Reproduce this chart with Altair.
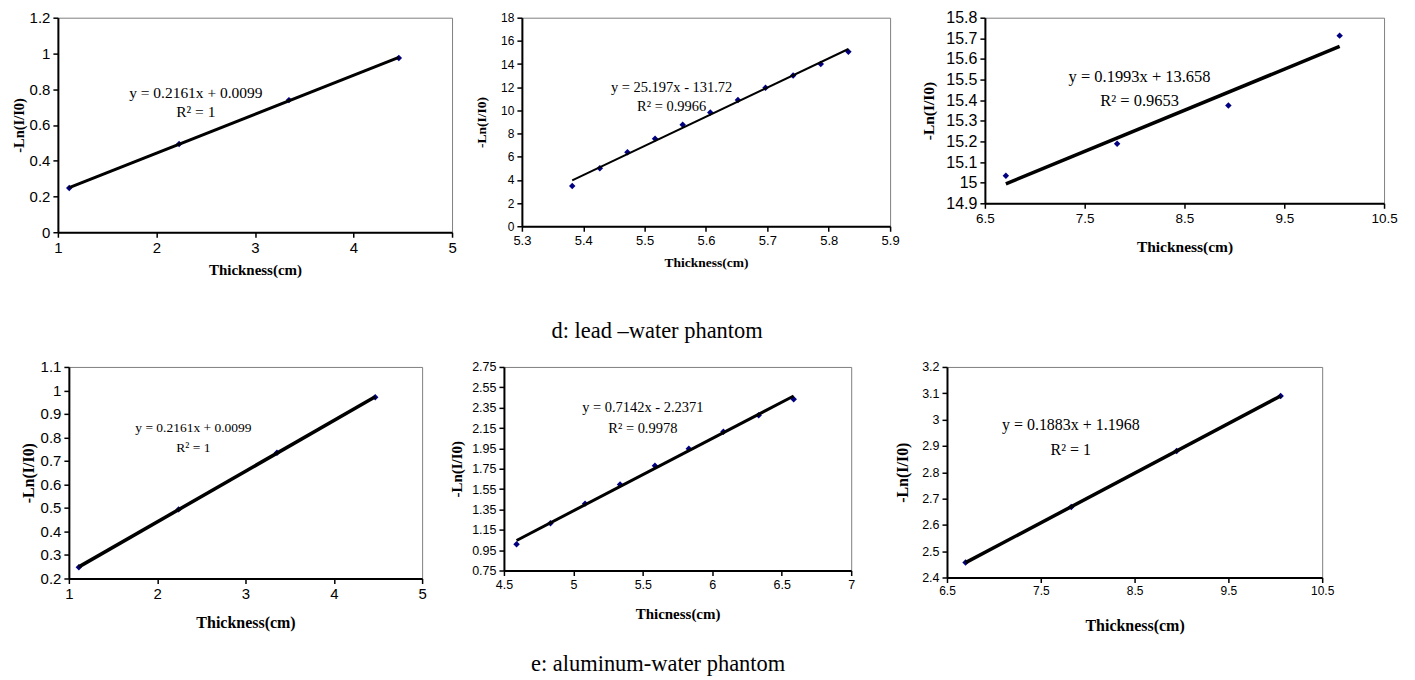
import altair as alt
import pandas as pd

# ---------------- data ----------------
p1_x = [1.115, 2.23, 3.345, 4.46]
p1_y = [0.247, 0.494, 0.739, 0.975]
p2_x = [5.382, 5.427, 5.472, 5.517, 5.562, 5.607, 5.652, 5.697, 5.742, 5.787, 5.832]
p2_y = [3.48, 5.01, 6.39, 7.55, 8.76, 9.82, 10.89, 11.95, 13.02, 14.0, 15.06]
p3_x = [6.71, 7.825, 8.94, 10.055]
p3_y = [15.034, 15.189, 15.374, 15.713]
p4_x = [1.113, 2.242, 3.356, 4.469]
p4_y = [0.248, 0.494, 0.735, 0.971]
p5_x = [4.591, 4.835, 5.084, 5.336, 5.587, 5.831, 6.080, 6.334, 6.586]
p5_y = [1.008, 1.214, 1.407, 1.596, 1.779, 1.946, 2.113, 2.276, 2.433]
p6_x = [6.698, 7.825, 8.948, 10.057]
p6_y = [2.457, 2.668, 2.881, 3.090]

xticks_1 = [1, 2, 3, 4, 5]
yticks_1 = [0, 0.2, 0.4, 0.6, 0.8, 1.0, 1.2]
xticks_2 = [5.3, 5.4, 5.5, 5.6, 5.7, 5.8, 5.9]
yticks_2 = [0, 2, 4, 6, 8, 10, 12, 14, 16, 18]
xticks_3 = [6.5, 7.5, 8.5, 9.5, 10.5]
yticks_3 = [14.9, 15.0, 15.1, 15.2, 15.3, 15.4, 15.5, 15.6, 15.7, 15.8]
xticks_4 = [1, 2, 3, 4, 5]
yticks_4 = [0.2, 0.3, 0.4, 0.5, 0.6, 0.7, 0.8, 0.9, 1.0, 1.1]
xticks_5 = [4.5, 5, 5.5, 6, 6.5, 7]
yticks_5 = [0.75, 0.95, 1.15, 1.35, 1.55, 1.75, 1.95, 2.15, 2.35, 2.55, 2.75]
xticks_6 = [6.5, 7.5, 8.5, 9.5, 10.5]
yticks_6 = [2.4, 2.5, 2.6, 2.7, 2.8, 2.9, 3.0, 3.1, 3.2]

eq_1 = ["y = 0.2161x + 0.0099", "R² = 1"]
eq_2 = ["y = 25.197x - 131.72", "R² = 0.9966"]
eq_3 = ["y = 0.1993x + 13.658", "R² = 0.9653"]
eq_4 = ["y = 0.2161x + 0.0099", "R² = 1"]
eq_5 = ["y = 0.7142x - 2.2371", "R² = 0.9978"]
eq_6 = ["y = 0.1883x + 1.1968", "R² = 1"]

x_titles = ["Thickness(cm)", "Thickness(cm)", "Thickness(cm)",
            "Thickness(cm)", "Thicness(cm)", "Thickness(cm)"]
y_title = "-Ln(I/I0)"
captions = ["d: lead \u2013water phantom", "e: aluminum-water phantom"]


def panel(xs, ys, xt, yt, xtitle, eq, eqpos, w, h, box, lfx, lfy, tfs, efs,
          xty, ytx, lw, ytfs=None):
    L, R, T, B = box
    data = pd.DataFrame({"x": xs, "y": ys})
    x_enc = alt.X(
        "x:Q",
        scale=alt.Scale(domain=[xt[0], xt[-1]], nice=False, zero=False),
        axis=alt.Axis(
            values=xt, format=".4~g", title=xtitle, grid=False,
            labelFont="Liberation Sans", labelFontSize=lfx, labelColor="black",
            labelPadding=3, labelFlush=False, labelOverlap=False,
            tickSize=5, tickColor="black", tickWidth=1.5,
            domainColor="black", domainWidth=2,
            titleFont="Liberation Serif", titleFontWeight="bold",
            titleFontSize=tfs, titleColor="black",
            titleY=xty, titleBaseline="middle",
        ),
    )
    y_enc = alt.Y(
        "y:Q",
        scale=alt.Scale(domain=[yt[0], yt[-1]], nice=False, zero=False),
        axis=alt.Axis(
            values=yt, format=".4~g", title=y_title, grid=False,
            labelFont="Liberation Sans", labelFontSize=lfy, labelColor="black",
            labelPadding=3, labelFlush=False, labelOverlap=False,
            tickSize=5, tickColor="black", tickWidth=1.5,
            domainColor="black", domainWidth=2,
            titleFont="Liberation Serif", titleFontWeight="bold",
            titleFontSize=ytfs if ytfs else tfs, titleColor="black",
            titleX=ytx, titleY=h / 2, titleAngle=270, titleBaseline="middle",
        ),
    )
    # invisible box that fixes the panel's footprint in the layout
    frame = alt.Chart(pd.DataFrame({"k": [0]})).mark_rect(opacity=0).encode(
        x=alt.value(-L), x2=alt.value(w + R), y=alt.value(-T), y2=alt.value(h + B)
    )
    base = alt.Chart(data)
    pts = base.mark_point(shape="diamond", filled=True, size=42,
                          color="#000080", opacity=1).encode(x=x_enc, y=y_enc)
    line = base.transform_regression("x", "y").mark_line(
        color="black", strokeWidth=lw).encode(x=x_enc, y=y_enc)
    tdf = pd.DataFrame({"x": [eqpos[0], eqpos[2]], "y": [eqpos[1], eqpos[3]],
                        "t": eq})
    txt = alt.Chart(tdf).mark_text(
        font="Liberation Serif", fontSize=efs, color="black",
        align="center", baseline="middle").encode(x=x_enc, y=y_enc, text="t:N")
    return alt.layer(frame, pts, line, txt).properties(
        width=w, height=h,
        view=alt.ViewBackground(stroke="#808080", strokeWidth=1),
    )


P1 = panel(p1_x, p1_y, xticks_1, yticks_1, x_titles[0], eq_1,
           (2.40, 0.781, 2.40, 0.675), 395, 215, (45, 16, 8, 51.5),
           15, 15, 15, 15.5, 37, -38, 3, ytfs=14.5)
P2 = panel(p2_x, p2_y, xticks_2, yticks_2, x_titles[1], eq_2,
           (5.544, 11.97, 5.544, 10.25), 369, 209, (52, 24, 8, 57.5),
           13, 12, 13.5, 14.5, 36, -40, 2)
P3 = panel(p3_x, p3_y, xticks_3, yticks_3, x_titles[2], eq_3,
           (8.05, 15.51, 8.05, 15.398), 400, 186, (69, 22, 8, 80.5),
           13.5, 16, 15.5, 16.5, 43, -57, 3.5)
P4 = panel(p4_x, p4_y, xticks_4, yticks_4, x_titles[3], eq_4,
           (2.41, 0.841, 2.41, 0.756), 354, 212, (57, 16, 8, 62),
           15, 15, 16, 13.5, 44, -40, 3.5)
P5 = panel(p5_x, p5_y, xticks_5, yticks_5, x_titles[4], eq_5,
           (5.5, 2.348, 5.5, 2.142), 348, 204, (64, 23, 8, 70),
           12.5, 12.5, 15, 14.5, 43, -48, 3)
P6 = panel(p6_x, p6_y, xticks_6, yticks_6, x_titles[5], eq_6,
           (7.82, 2.98, 7.82, 2.885), 376, 211, (71, 20, 8, 63),
           12, 12.5, 16, 16, 48, -44.5, 3.5)


def spacer():
    return alt.Chart(pd.DataFrame({"k": [0]})).mark_rect(opacity=0).encode(
        x=alt.value(0), x2=alt.value(1), y=alt.value(0), y2=alt.value(1)
    ).properties(width=1, height=1, view=alt.ViewBackground(stroke="transparent"))


def caption(text, cx, cy, h):
    return alt.Chart(pd.DataFrame({"t": [text]})).mark_text(
        font="Liberation Serif", fontSize=22.5, color="black",
        align="center", baseline="alphabetic").encode(
        x=alt.value(cx), y=alt.value(cy), text="t:N").properties(
        width=1300, height=h,
        view=alt.ViewBackground(stroke="transparent"))


row1 = alt.concat(spacer(), P1, P2, P3, columns=4, spacing=0, align="none").resolve_scale(
    x="independent", y="independent")
row2 = alt.concat(spacer(), P4, P5, P6, columns=4, spacing=0, align="none").resolve_scale(
    x="independent", y="independent")
cap1 = caption(captions[0], 649.5, 53, 72)
cap2 = caption(captions[1], 650.5, 29, 31)

chart = alt.concat(row1, cap1, row2, cap2, columns=1, spacing=0, align="none").resolve_scale(
    x="independent", y="independent"
).properties(padding=0, background="white")

chart.save("out.html", embed_options={"renderer": "svg", "actions": False})
